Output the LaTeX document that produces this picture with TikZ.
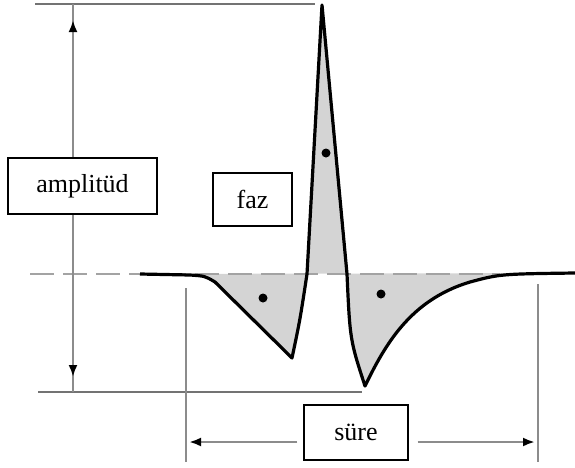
\documentclass[tikz,border=0pt]{standalone}
\usepackage{fontspec}
\setmainfont{Liberation Serif}
\usetikzlibrary{arrows.meta,calc}
\definecolor{dimgray}{gray}{0.55}
\definecolor{framegray}{gray}{0.45}
\definecolor{fillgray}{gray}{0.83}
\tikzset{
  dim/.style={draw=dimgray, line width=2.6pt},
  frameline/.style={draw=framegray, line width=2.8pt},
  arr/.style={-{Latex[black,length=12pt,width=9pt]}},
  label box/.style={draw=black, fill=white, line width=1.4pt, inner sep=0pt, font=\fontsize{26}{29}\selectfont},
  wave/.style={draw=black, line width=3.2pt, line join=round},
  dot/.style={fill=black, circle, inner sep=0pt, minimum size=9pt},
  baseline dash/.style={draw=dimgray!80, line width=2.5pt, dash pattern=on 24pt off 9pt}
}
\begin{document}
\begin{tikzpicture}[x=1pt,y=-1pt]
\useasboundingbox (0,0) rectangle (575,467);
% filled wave
\fill[fillgray] (140,274) -- (190,275) .. controls (205,276) .. (215,282) -- (292,358)
  .. controls (300,320) .. (307,274) -- (322,5) -- (347,274)
  .. controls (350,340) .. (365,386)
  .. controls (385,345) and (410,300) .. (470,282)
  .. controls (500,274) .. (575,273) -- cycle;
% dashed baseline
\draw[baseline dash] (30,274) -- (500,274);
% wave outline
\draw[wave] (140,274) -- (190,275) .. controls (205,276) .. (215,282) -- (292,358)
  .. controls (300,320) .. (307,274) -- (322,5) -- (347,274)
  .. controls (350,340) .. (365,386)
  .. controls (385,345) and (410,300) .. (470,282)
  .. controls (500,274) .. (575,273);
% dots
\node[dot] (d1) at (263,298) {};
\node[dot] (d2) at (326,153) {};
\node[dot] (d3) at (381,294) {};
% reference lines
\coordinate (topL) at (35,4);
\coordinate (topR) at (315,4);
\coordinate (botL) at (38,392);
\coordinate (botR) at (362,392);
\draw[frameline] (topL) -- (topR);
\draw[frameline] (botL) -- (botR);
% amplitude dimension
\coordinate (aTop) at (73,4);
\coordinate (aBot) at (73,392);
\coordinate (aTipT) at (73,20);
\coordinate (aTipB) at (73,377);
\draw[dim] (aTop) -- (aBot);
\draw[dim, {Latex[black,length=12pt,width=9pt]}-{Latex[black,length=12pt,width=9pt]}] (aTipT) -- (aTipB);
% duration verticals
\coordinate (sLtop) at (186,288);
\coordinate (sLbot) at (186,462);
\coordinate (sRtop) at (538,284);
\coordinate (sRbot) at (538,462);
\draw[dim] (sLtop) -- (sLbot);
\draw[dim] (sRtop) -- (sRbot);
% boxes
\node[label box, minimum width=149pt, minimum height=56pt] (amp) at (82.5,186) {amplitüd\hspace{13pt}};
\node[label box, minimum width=79pt, minimum height=53pt] (faz) at (252.5,199.5) {faz};
\node[label box, minimum width=104pt, minimum height=55pt] (sure) at (356,432.5) {süre\hspace{14pt}};
% duration arrows
\coordinate (sTipL) at (189,442);
\coordinate (sTipR) at (535,442);
\draw[dim, arr] ($(sure.west)+(-6,9.5)$) -- (sTipL);
\draw[dim, arr] ($(sure.east)+(9,9.5)$) -- (sTipR);
\end{tikzpicture}
\end{document}
